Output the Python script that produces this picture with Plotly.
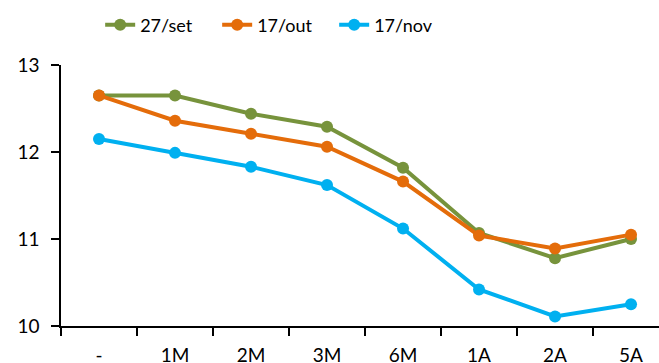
import plotly.graph_objects as go

# Tenors on the x axis
categories = ["-", "1M", "2M", "3M", "6M", "1A", "2A", "5A"]

# Curve levels (%) for each date
set27 = [12.65, 12.65, 12.44, 12.29, 11.82, 11.07, 10.78, 11.00]
out17 = [12.65, 12.36, 12.21, 12.06, 11.66, 11.04, 10.89, 11.05]
nov17 = [12.15, 11.99, 11.83, 11.62, 11.12, 10.42, 10.11, 10.25]

series = [
    ("27/set", set27, "#77933C"),
    ("17/out", out17, "#E46C0A"),
    ("17/nov", nov17, "#00B0F0"),
]

FONT = "Lato"

fig = go.Figure()
for name, vals, color in series:
    fig.add_trace(go.Scatter(
        x=categories, y=vals, name=name, mode="lines+markers",
        line=dict(color=color, width=4),
        marker=dict(color=color, size=12),
    ))

fig.update_layout(
    width=659, height=363,
    margin=dict(l=61, r=0, t=65, b=37, autoexpand=False),
    paper_bgcolor="white", plot_bgcolor="white",
    font=dict(family=FONT, size=19, color="black"),
    showlegend=True,
    legend=dict(
        orientation="h", xref="container", yref="container",
        x=0.152, xanchor="left", y=0.931, yanchor="middle",
        font=dict(family=FONT, size=18, color="black"),
        entrywidth=72, entrywidthmode="pixels",
        tracegroupgap=0,
    ),
    xaxis=dict(
        type="category", range=[-0.5, 7.368], automargin=False,
        showline=True, linecolor="black", linewidth=1.5,
        ticks="outside", tickson="boundaries", ticklen=8,
        tickcolor="black", tickwidth=1.5,
        showgrid=False, zeroline=False, ticklabelstandoff=11,
    ),
    yaxis=dict(
        range=[10, 13], dtick=1, automargin=False,
        showline=True, linecolor="black", linewidth=1.5,
        ticks="outside", ticklen=8, tickcolor="black", tickwidth=1.5,
        showgrid=False, zeroline=False, ticklabelstandoff=8,
    ),
)

fig.write_html("out.html")
